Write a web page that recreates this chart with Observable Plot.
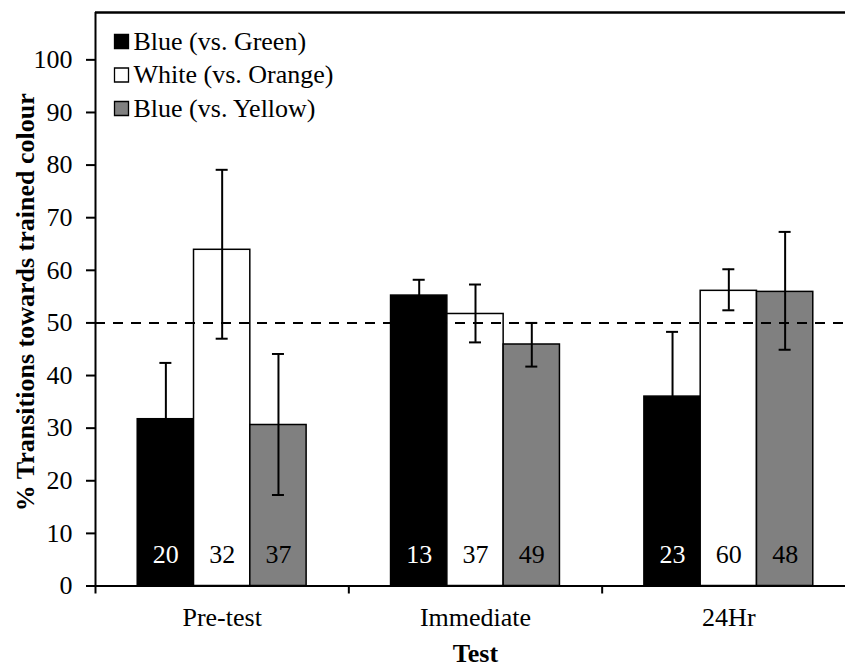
<!DOCTYPE html>
<html>
<head>
<meta charset="utf-8">
<script src="https://cdn.jsdelivr.net/npm/d3@7"></script>
<script src="https://cdn.jsdelivr.net/npm/@observablehq/plot@0.6"></script>
<style>
  html, body { margin: 0; padding: 0; background: #fff; overflow: hidden; }
  #chart svg { display: block; }
</style>
</head>
<body>
<div id="chart"></div>
<script>
// ---- data ----
const tests = ["Pre-test", "Immediate", "24Hr"];
const seriesNames = ["Blue (vs. Green)", "White (vs. Orange)", "Blue (vs. Yellow)"];
const seriesFill = ["#000000", "#ffffff", "#808080"];
const countFill = ["#ffffff", "#000000", "#000000"];

const blueGreenMean = [31.7, 55.2, 36.0];
const blueGreenLow  = [21.0, 52.2, 23.7];
const blueGreenHigh = [42.4, 58.2, 48.3];
const blueGreenN    = [20, 13, 23];

const whiteOrangeMean = [63.9, 51.7, 56.1];
const whiteOrangeLow  = [47.0, 46.3, 52.4];
const whiteOrangeHigh = [79.1, 57.3, 60.2];
const whiteOrangeN    = [32, 37, 60];

const blueYellowMean = [30.6, 45.9, 55.9];
const blueYellowLow  = [17.3, 41.7, 44.9];
const blueYellowHigh = [44.1, 50.0, 67.3];
const blueYellowN    = [37, 49, 48];

const yTicks = [0, 10, 20, 30, 40, 50, 60, 70, 80, 90, 100];
const chanceLevel = 50;

// ---- table ----
const seriesData = [
  {mean: blueGreenMean, low: blueGreenLow, high: blueGreenHigh, n: blueGreenN},
  {mean: whiteOrangeMean, low: whiteOrangeLow, high: whiteOrangeHigh, n: whiteOrangeN},
  {mean: blueYellowMean, low: blueYellowLow, high: blueYellowHigh, n: blueYellowN}
];
const groupPad = 1 / 6;     // gap on each side of a group (in group units)
const barW = 2 / 9;         // bar width (in group units)
const rows = [];
seriesData.forEach((s, j) => {
  tests.forEach((t, i) => {
    const x1 = i + groupPad + j * barW;
    rows.push({test: t, series: seriesNames[j], j, x1, x2: x1 + barW, cx: x1 + barW / 2,
      mean: s.mean[i], low: s.low[i], high: s.high[i], n: s.n[i]});
  });
});

const W = 845, H = 668;
const xRange = [95, 855];
const capHalf = 6 * (tests.length / (xRange[1] - xRange[0]));
const font = "'Liberation Serif', 'Times New Roman', serif";

const legendMarks = seriesNames.flatMap((name, j) => [
  Plot.dot([name], {frameAnchor: "top-left", dx: 26, dy: 29 + j * 33.5, symbol: "square", r: 7.9,
    fill: seriesFill[j], stroke: "#000", strokeWidth: 1.3}),
  Plot.text([name], {frameAnchor: "top-left", dx: 38, dy: 29 + j * 33.5, text: d => d,
    textAnchor: "start", lineAnchor: "middle", fontSize: 26, fill: "#000"})
]);

const chart = Plot.plot({
  width: W,
  height: H,
  marginLeft: 95,
  marginRight: 0,
  marginTop: 12,
  marginBottom: 82.5,
  style: {fontFamily: font, fontSize: "26px", color: "#000", background: "#fff"},
  x: {type: "linear", domain: [0, tests.length], range: xRange},
  y: {domain: [0, 109]},
  marks: [
    Plot.rectY(rows, {x1: "x1", x2: "x2", y1: 0, y2: "mean", fill: d => seriesFill[d.j],
      stroke: "#000", strokeWidth: 1.5}),
    Plot.ruleY([chanceLevel], {stroke: "#000", strokeWidth: 2, strokeDasharray: "10,8"}),
    Plot.ruleX(rows, {x: "cx", y1: "low", y2: "high", stroke: "#000", strokeWidth: 2}),
    Plot.ruleY(rows, {y: "high", x1: d => d.cx - capHalf, x2: d => d.cx + capHalf, stroke: "#000", strokeWidth: 2}),
    Plot.ruleY(rows, {y: "low", x1: d => d.cx - capHalf, x2: d => d.cx + capHalf, stroke: "#000", strokeWidth: 2}),
    Plot.text(rows, {x: "cx", y: 0, dy: -31, text: d => String(d.n), fill: d => countFill[d.j], fontSize: 26}),
    // frame lines
    Plot.ruleY([109], {stroke: "#000", strokeWidth: 2.5}),
    Plot.ruleY([0], {stroke: "#000", strokeWidth: 2}),
    Plot.ruleX([0], {stroke: "#000", strokeWidth: 2}),
    // axes
    Plot.axisY({ticks: yTicks, tickSize: 9, tickPadding: 14, fontSize: 26, strokeWidth: 2, label: null}),
    Plot.axisX({ticks: d3.range(0, tests.length + 1), tickSize: 8, tickFormat: () => "", strokeWidth: 2, label: null}),
    Plot.text(tests, {x: (d, i) => i + 0.5, y: 0, dy: 31.2, text: d => d, fontSize: 26}),
    Plot.text(["Test"], {x: tests.length / 2, y: 0, dy: 67.5, text: d => d, fontSize: 26, fontWeight: "bold"}),
    Plot.text(["% Transitions towards trained colour"], {frameAnchor: "left", dx: -70.3, dy: 3,
      textAnchor: "middle", lineAnchor: "middle",
      rotate: -90, text: d => d, fontSize: 26, fontWeight: "bold"}),
    ...legendMarks
  ]
});
document.getElementById("chart").appendChild(chart);
</script>
</body>
</html>
